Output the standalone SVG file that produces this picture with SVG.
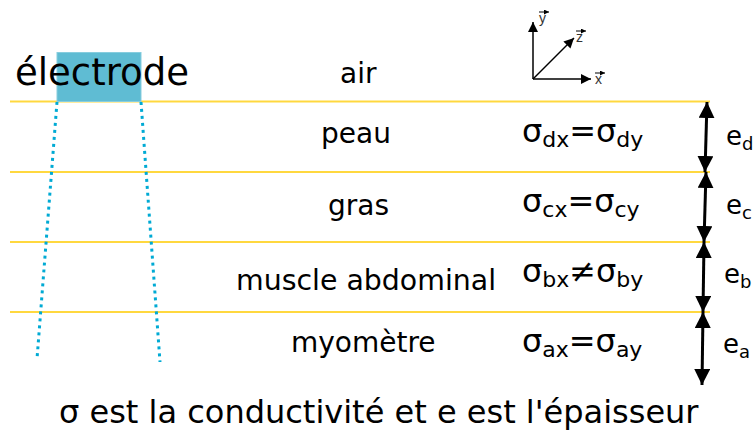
<svg xmlns="http://www.w3.org/2000/svg" width="754" height="431" viewBox="0 0 754 431">
<defs>
<marker id="ah" viewBox="0 0 16 18" refX="16" refY="8" markerWidth="16" markerHeight="18" markerUnits="userSpaceOnUse" orient="auto-start-reverse">
<path d="M0,0 L16,8 L0,16 Z" fill="#000"/>
</marker>
<marker id="ahs" viewBox="0 0 10 10" refX="10" refY="5" markerWidth="10" markerHeight="10" markerUnits="userSpaceOnUse" orient="auto">
<path d="M0,0 L10,5 L0,10 Z" fill="#000"/>
</marker>
<marker id="aht" viewBox="0 0 6 6" refX="6" refY="3" markerWidth="5" markerHeight="5" markerUnits="userSpaceOnUse" orient="auto">
<path d="M0,0 L6,3 L0,6 Z" fill="#000"/>
</marker>
</defs>
<style>
text{font-family:"DejaVu Sans","Liberation Sans",sans-serif;fill:#000}
.lay{font-size:28px}
.sig{font-size:32px}
.sub{font-size:22px}
.e{font-size:26px}
.esub{font-size:18px}
.ax{font-family:"Liberation Sans",Arial,sans-serif;font-size:14px;fill:#333}
.boundary{stroke:#ffd42a;stroke-width:1.8;stroke-opacity:0.9}
.dot{stroke:#00aad4;stroke-width:3;stroke-dasharray:3 4;fill:none}
.dim{stroke:#000;stroke-width:3;fill:none;marker-start:url(#ah);marker-end:url(#ah)}
.axis{stroke:#000;stroke-width:1.5;fill:none;marker-end:url(#ahs)}
.vec{stroke:#000;stroke-width:1;fill:none;marker-end:url(#aht)}
</style>

<g id="layers">
<line class="boundary" x1="10" y1="101.5" x2="710" y2="101.5"/>
<line class="boundary" x1="10" y1="172" x2="710" y2="172"/>
<line class="boundary" x1="10" y1="242" x2="710" y2="242"/>
<line class="boundary" x1="10" y1="312" x2="710" y2="312"/>
</g>

<g id="electrode">
<rect x="57" y="52.5" width="84" height="49" fill="#5fbcd3" stroke="#87cdde" stroke-width="1"/>
<text x="15" y="85" style="font-size:37px">électrode</text>
<line class="dot" x1="57" y1="102" x2="37" y2="359"/>
<line class="dot" x1="141" y1="102" x2="160" y2="362"/>
</g>

<g id="axes">
<line class="axis" x1="533" y1="79" x2="533" y2="22"/>
<line class="axis" x1="533" y1="79" x2="591" y2="79"/>
<line class="axis" x1="533" y1="79" x2="574" y2="38"/>
<text class="ax" x="539" y="23">y</text>
<line class="vec" x1="539" y1="12" x2="549" y2="12"/>
<text class="ax" x="576" y="42">z</text>
<line class="vec" x1="576" y1="31" x2="586" y2="31"/>
<text class="ax" x="595" y="84">x</text>
<line class="vec" x1="595" y1="73" x2="605" y2="73"/>
</g>

<g id="air"><text class="lay" x="340" y="83">air</text></g>
<g id="peau"><text class="lay" x="321" y="143">peau</text>
<text class="sig" x="522" y="142">σ<tspan class="sub" dy="5">dx</tspan><tspan dy="-5">=</tspan>σ<tspan class="sub" dy="5">dy</tspan></text>
<text class="e" x="726" y="145">e<tspan class="esub" dy="5">d</tspan></text>
</g>
<g id="gras"><text class="lay" x="328" y="215">gras</text>
<text class="sig" x="522" y="212">σ<tspan class="sub" dy="5">cx</tspan><tspan dy="-5">=</tspan>σ<tspan class="sub" dy="5">cy</tspan></text>
<text class="e" x="726" y="214">e<tspan class="esub" dy="5">c</tspan></text>
</g>
<g id="muscle"><text class="lay" x="236" y="290" style="font-size:28.4px">muscle abdominal</text>
<text class="sig" x="522" y="282">σ<tspan class="sub" dy="5">bx</tspan><tspan dy="-5">≠</tspan>σ<tspan class="sub" dy="5">by</tspan></text>
<text class="e" x="724" y="283">e<tspan class="esub" dy="5">b</tspan></text>
</g>
<g id="myometre"><text class="lay" x="291" y="352">myomètre</text>
<text class="sig" x="522" y="352">σ<tspan class="sub" dy="5">ax</tspan><tspan dy="-5">=</tspan>σ<tspan class="sub" dy="5">ay</tspan></text>
<text class="e" x="723" y="353">e<tspan class="esub" dy="5">a</tspan></text>
</g>

<g id="connectors">
<line class="dim" x1="707" y1="102" x2="705" y2="172"/>
<line class="dim" x1="706" y1="172" x2="704" y2="242"/>
<line class="dim" x1="704" y1="242" x2="703" y2="312"/>
<line class="dim" x1="703" y1="312" x2="702" y2="385"/>
</g>

<g id="legend"><text x="59" y="423" style="font-size:32px">σ est la conductivité et e est l'épaisseur</text></g>
</svg>
